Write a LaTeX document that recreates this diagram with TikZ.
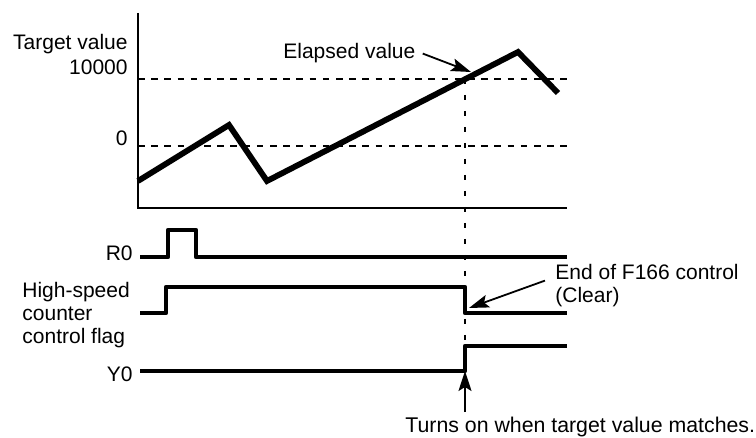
\documentclass[tikz,border=0pt]{standalone}
\usepackage{fontspec}
\setmainfont{Liberation Sans}
\usetikzlibrary{arrows.meta, positioning}

\begin{document}
\begin{tikzpicture}[x=0.5pt, y=-0.5pt,
		every node/.style={inner sep=0pt, font=\fontsize{10.5}{11.5}\selectfont},
		asse/.style={line width=0.65pt},
		griglia/.style={line width=0.6pt, dash pattern=on 3.3pt off 3.3pt},
		guida/.style={line width=0.6pt, dash pattern=on 2.5pt off 5.5pt},
		curva/.style={line width=2.9pt, line join=miter},
		segnale/.style={line width=2.3pt, line join=round},
		freccia/.style={line width=0.9pt, -{Stealth[length=10pt, width=6.5pt, inset=2pt]}}]
	
	\useasboundingbox (0,0) rectangle (756,438);
	
	% Etichette a sinistra
	\node[anchor=base east] (target) at (128,50) {Target value};
	\node[anchor=base east] (diecimila) at (128,75) {10000};
	\node[anchor=base east] (zero) at (128,146) {0};
	\node[anchor=base east] (r0) at (133,261) {R0};
	\node[anchor=north west, align=left] (flag) at (22,282) {High-speed\\counter\\control flag};
	\node[anchor=base east] (y0) at (133,382) {Y0};
	
	% Note a destra
	\node[anchor=base west] (elapsed) at (283,59) {Elapsed value};
	\node[anchor=base west] (endf) at (555,280) {End of F166 control};
	\node[anchor=base west] (clear) at ([yshift=-11.5pt]endf.base west) {(Clear)};
	\node[anchor=base west, font=\fontsize{10.65}{11.5}\selectfont] (turnon) at (405,433) {Turns on when target value matches.};
	
	% Punti notevoli
	\coordinate (incrocio) at (465,79);
	\coordinate (punta) at (471,72);
	\coordinate (reset) at (469,308);
	\coordinate (ystep) at (465,371);
	
	% Linee tratteggiate
	\draw[griglia] (138,79) -- (567,79);
	\draw[griglia] (138,146) -- (567,146);
	\draw[guida] (incrocio) -- (ystep);
	
	% Assi
	\draw[asse] (138,13) -- (138,208) -- (567,208);
	
	% Valore trascorso
	\draw[curva] (138,181) -- (229,125) -- (267,181) -- (518,52) -- (558,93);
	
	% Segnali
	\draw[segnale] (140,257) -- (168,257) |- (196,230) |- (567,257);
	\draw[segnale] (140,313) -- (166,313) |- (465,287) |- (567,313);
	\draw[segnale] (140,371) -- (ystep) |- (567,346);
	
	% Frecce
	\draw[freccia] ([xshift=3.5pt]elapsed.east) -- (punta);
	\draw[freccia] ([xshift=-5pt]endf.south west) -- (reset);
	\draw[freccia] ([yshift=2.5pt]turnon.north -| ystep) -- (ystep);
	
\end{tikzpicture}
\end{document}
